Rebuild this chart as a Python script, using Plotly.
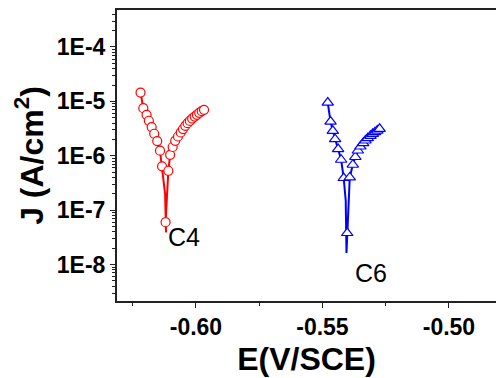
import math
import plotly.graph_objects as go

# Polarization curve C4 (potential in V vs SCE, current density in A/cm^2)
E_c4 = [-0.6219, -0.6208, -0.6195, -0.6186, -0.6175, -0.6165, -0.6153, -0.6142,
        -0.6134, -0.6122, -0.6118, -0.6120, -0.6109, -0.6102, -0.6092, -0.6082,
        -0.6071, -0.6060, -0.6051, -0.6042, -0.6033, -0.6024, -0.6015, -0.6005,
        -0.5996, -0.5987, -0.5977, -0.5968]
J_c4 = [1.45e-5, 7.5e-6, 5.65e-6, 4.4e-6, 3.37e-6, 2.54e-6, 1.86e-6, 1.24e-6,
        6.4e-7, 2.0e-7, 3.9e-8, 6.0e-8, 5.3e-7, 1.04e-6, 1.45e-6, 1.88e-6,
        2.26e-6, 2.68e-6, 3.09e-6, 3.55e-6, 3.98e-6, 4.38e-6, 4.83e-6, 5.26e-6,
        5.65e-6, 6.15e-6, 6.6e-6, 6.98e-6]
# indices of the measured points drawn with symbols
M_c4 = [0, 1, 2, 3, 4, 5, 6, 7, 8, 11, 12, 13, 14, 15, 16, 17, 18, 19, 20,
        21, 22, 23, 24, 25, 26, 27]

# Polarization curve C6
E_c6 = [-0.5479, -0.5468, -0.5459, -0.5450, -0.5438, -0.5426, -0.5416, -0.5408,
        -0.5405, -0.5402, -0.5398, -0.5392, -0.5380, -0.5370, -0.5360, -0.5350,
        -0.5339, -0.5330, -0.5321, -0.5310, -0.5301, -0.5292, -0.5283, -0.5274]
J_c6 = [9.5e-6, 4.26e-6, 2.88e-6, 2.02e-6, 1.33e-6, 8.45e-7, 3.9e-7, 1.5e-7,
        1.64e-8, 3.8e-8, 1.5e-7, 4.0e-7, 6.84e-7, 9.5e-7, 1.25e-6, 1.48e-6,
        1.71e-6, 1.91e-6, 2.11e-6, 2.33e-6, 2.53e-6, 2.72e-6, 2.91e-6, 3.13e-6]
M_c6 = [0, 1, 2, 3, 4, 5, 6, 9, 11, 12, 13, 14, 15, 16, 17, 18, 19, 20,
        21, 22, 23]

x_ticks = [-0.60, -0.55, -0.50]
x_ticktext = ["-0.60", "-0.55", "-0.50"]
y_ticks = [1e-8, 1e-7, 1e-6, 1e-5, 1e-4]
y_ticktext = ["1E-8", "1E-7", "1E-6", "1E-5", "1E-4"]

labels = [("C4", -0.6048, 3.2e-8), ("C6", -0.5308, 7.1e-9)]

FONT = "Liberation Sans, Arial, sans-serif"
RED = "#ff0000"
BLUE = "#0000ff"

fig = go.Figure()

for E, J, M, col, sym, msize in [
    (E_c4, J_c4, M_c4, RED, "circle", 9),
    (E_c6, J_c6, M_c6, BLUE, "triangle-up", 10),
]:
    fig.add_trace(go.Scatter(
        x=E, y=J, mode="lines",
        line=dict(color=col, width=2), showlegend=False, hoverinfo="skip"))
    fig.add_trace(go.Scatter(
        x=[E[i] for i in M], y=[J[i] for i in M], mode="markers",
        marker=dict(symbol=sym, size=msize, color="white",
                    line=dict(color=col, width=1.2)),
        showlegend=False))

# annotations on a log axis take log10 positions
for txt, xe, yj in labels:
    fig.add_annotation(x=xe, y=math.log10(yj), xref="x", yref="y", text=txt,
                       showarrow=False, yanchor="middle", xanchor="center",
                       font=dict(family=FONT, size=25, color="black"))

fig.update_layout(
    width=496, height=378,
    margin=dict(l=117, r=0, t=10, b=77),
    paper_bgcolor="white", plot_bgcolor="white",
    xaxis=dict(
        range=[-0.6312, -0.4814], showgrid=False, zeroline=False,
        tickvals=x_ticks, ticktext=x_ticktext,
        ticks="outside", ticklen=5, tickwidth=1, tickcolor="#222",
        minor=dict(tickvals=[-0.625, -0.575, -0.525, -0.475], ticks="outside",
                   ticklen=3, tickcolor="#222"),
        showline=True, linecolor="#222", linewidth=1.5, mirror=True,
        tickfont=dict(family=FONT, size=23, color="black", weight="bold"),
        title=dict(text="E(V/SCE)", standoff=8,
                   font=dict(family=FONT, size=32, color="black", weight="bold")),
    ),
    yaxis=dict(
        type="log", range=[-8.67, -3.32], showgrid=False, zeroline=False,
        tickvals=y_ticks, ticktext=y_ticktext,
        ticks="outside", ticklen=5, tickwidth=1, tickcolor="#222",
        minor=dict(ticks="outside", ticklen=3, tickcolor="#222", dtick="D1"),
        showline=True, linecolor="#222", linewidth=2,
        tickfont=dict(family=FONT, size=23, color="black", weight="bold"),
        title=dict(text="J (A/cm<sup>2</sup>)", standoff=4,
                   font=dict(family=FONT, size=32, color="black", weight="bold")),
    ),
)

fig.write_html("out.html")
